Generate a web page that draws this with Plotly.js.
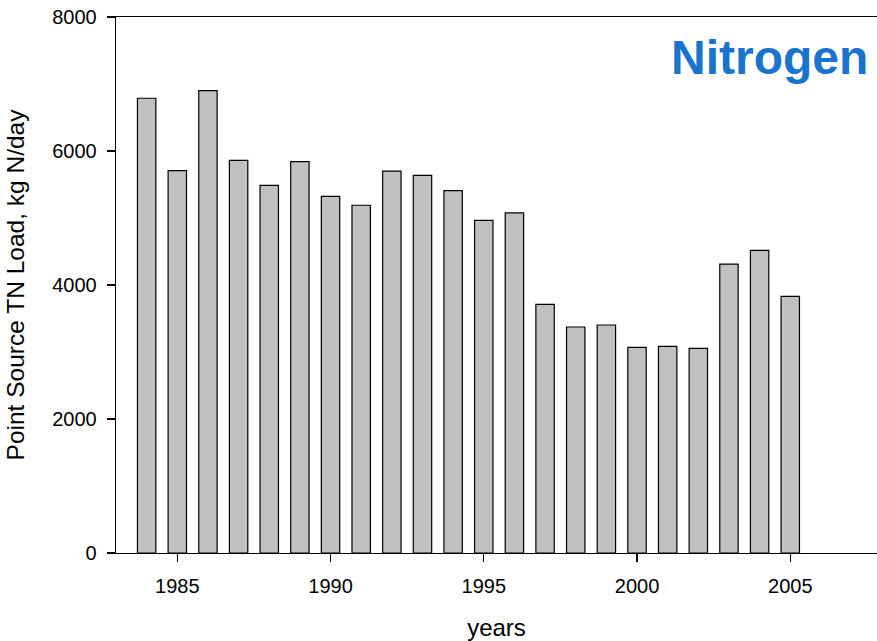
<!DOCTYPE html>
<html>
<head>
<meta charset="utf-8">
<script src="https://cdn.plot.ly/plotly-3.0.1.min.js"></script>
<style>html,body{margin:0;padding:0;background:#fff}#chart{width:877px;height:641px}</style>
</head>
<body>
<div id="chart"></div>
<script>
const years = [1984,1985,1986,1987,1988,1989,1990,1991,1992,1993,1994,1995,1996,1997,1998,1999,2000,2001,2002,2003,2004,2005];
const tnLoad = [6787,5706,6900,5861,5488,5840,5324,5190,5701,5637,5408,4965,5075,3711,3373,3403,3070,3085,3055,4313,4518,3831];
const xTickVals = [1985,1990,1995,2000,2005];
const yTickVals = [0,2000,4000,6000,8000];
const xTitle = "years";
const yTitle = "Point Source TN Load, kg N/day";
const labelText = "Nitrogen";

const trace = {
  type: 'bar',
  x: years,
  y: tnLoad,
  width: 0.6,
  marker: {color: '#c0c0c0', line: {color: '#000000', width: 1.2}},
  hoverinfo: 'x+y'
};

const layout = {
  width: 877, height: 641,
  margin: {l: 116, r: 0, t: 17, b: 88, pad: 0},
  paper_bgcolor: '#ffffff', plot_bgcolor: '#ffffff',
  font: {family: 'Liberation Sans, Arial, sans-serif', color: '#000000', size: 20},
  showlegend: false,
  xaxis: {
    range: [1983, 2007.83],
    tickmode: 'array', tickvals: xTickVals, ticktext: xTickVals.map(String),
    ticks: 'outside', ticklen: 8, tickwidth: 1.3, tickcolor: '#000',
    showline: true, linecolor: '#000', linewidth: 1.3, mirror: true,
    showgrid: false, zeroline: false,
    tickfont: {size: 20},
    ticklabelstandoff: 7,
    title: {text: xTitle, font: {size: 24}, standoff: 28}
  },
  yaxis: {
    range: [0, 8000],
    tickmode: 'array', tickvals: yTickVals, ticktext: yTickVals.map(String),
    ticks: 'outside', ticklen: 8, tickwidth: 1.3, tickcolor: '#000',
    showline: true, linecolor: '#000', linewidth: 1.3,
    showgrid: false, zeroline: false,
    tickfont: {size: 20},
    ticklabelstandoff: 6,
    title: {text: yTitle, font: {size: 24.5}, standoff: 20}
  },
  annotations: [{
    text: labelText, showarrow: false,
    xref: 'paper', yref: 'paper', x: 0.991, y: 0.925,
    xanchor: 'right', yanchor: 'middle',
    font: {family: 'Liberation Sans, Arial, sans-serif', size: 48, color: '#1874cd', weight: 'bold'}
  }]
};

Plotly.newPlot('chart', [trace], layout, {displayModeBar: false, staticPlot: true});
</script>
</body>
</html>
